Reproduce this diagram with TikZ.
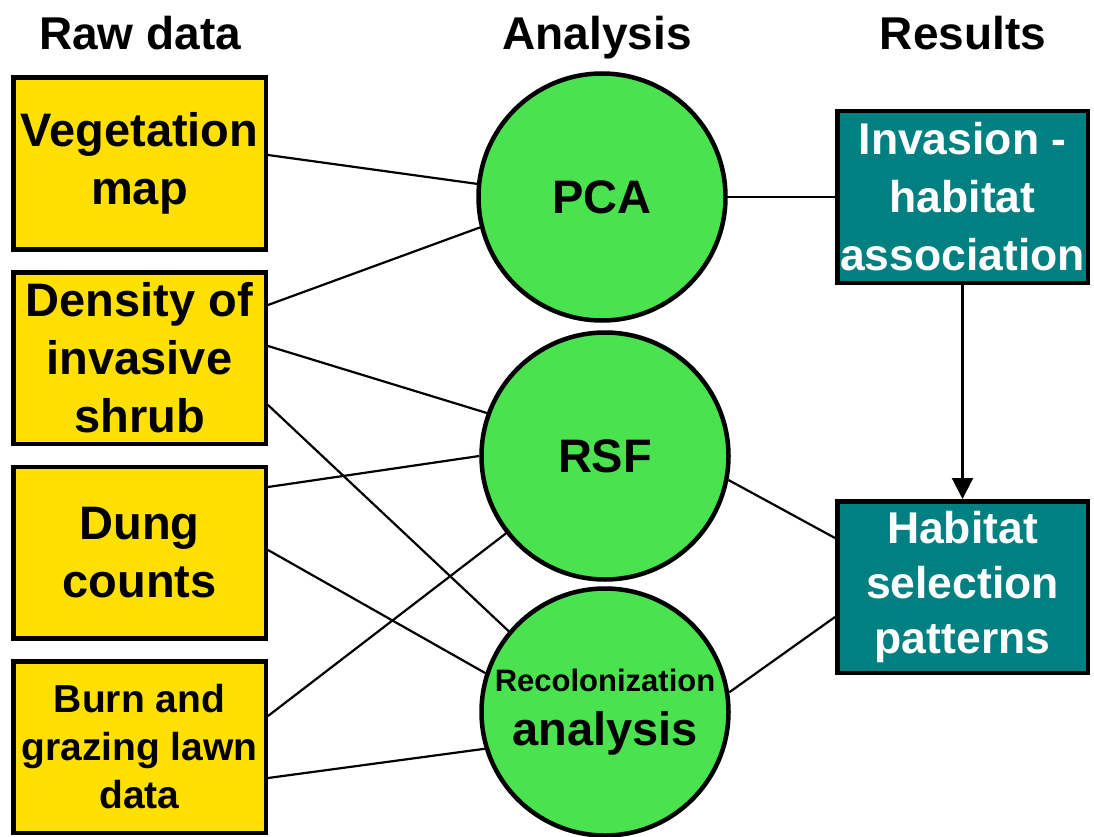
\documentclass[tikz,border=0pt]{standalone}
\usepackage{fontspec}
\setmainfont{Liberation Sans}
\usepackage{tikz}
\usetikzlibrary{positioning}
\usetikzlibrary{arrows.meta}
\definecolor{rawyellow}{RGB}{255,224,0}
\definecolor{anagreen}{RGB}{74,226,78}
\definecolor{resteal}{RGB}{0,128,128}

\begin{document}
\begin{tikzpicture}[x=1pt,y=1pt,on grid,
    rawbox/.style={draw,line width=4.5pt,fill=rawyellow,minimum width=252.5pt,minimum height=171.5pt,
      inner sep=0pt,align=center,font=\fontsize{47}{58}\selectfont\bfseries},
    method/.style={circle,draw,line width=4.5pt,fill=anagreen,minimum size=247pt,
      inner sep=0pt,align=center,font=\fontsize{47}{54}\selectfont\bfseries},
    result/.style={draw,line width=4.5pt,fill=resteal,text=white,minimum width=250.5pt,minimum height=171.5pt,
      inner sep=0pt,align=center,font=\fontsize{44.5}{58}\selectfont\bfseries},
    head/.style={anchor=base,font=\fontsize{46}{54}\selectfont\bfseries},
    link/.style={line width=2.2pt}]
   \useasboundingbox (0,0) rectangle (1094,-837);
   % column titles
   \node[head] (h_raw) at (140,-50) {Raw data};
   \node[head] (h_ana) at (597,-50) {Analysis};
   \node[head] (h_res) at (963,-50) {Results};
   % raw data
   \node[rawbox] (veg) at (139.5,-163.5) {Vegetation\\map};
   \node[rawbox] (dens) [below=194.5pt of veg] {Density of\\invasive\\shrub};
   \node[rawbox] (dung) [below=194.5pt of dens] {Dung\\counts};
   \node[rawbox,font=\fontsize{39}{48}\selectfont\bfseries] (burn) [below=194.5pt of dung] {Burn and\\grazing lawn\\data};
   % analysis
   \node[method] (pca) at (602,-197) {PCA};
   \node[method] (rsf) [below right=259pt and 3pt of pca] {RSF};
   \node[method] (rec) [below=256pt of rsf] {{\fontsize{31}{31}\selectfont Recolonization}\\analysis};
   % results
   \node[result] (inv) at (962.5,-197) {Invasion -\\habitat\\association};
   \node[result,font=\fontsize{44.5}{55}\selectfont\bfseries] (hab) [below=390pt of inv] {Habitat\\selection\\patterns};
    \path[link]
    ([yshift=8.5pt]veg.east) edge (pca.174)
    ([yshift=53pt]dens.east) edge (pca.194)
    ([yshift=12pt]dens.east) edge (rsf.160)
    ([yshift=-47pt]dens.east) edge (rec.140)
    ([yshift=65.5pt]dung.east) edge (rsf.180)
    ([yshift=2.5pt]dung.east) edge (rec.162)
    ([yshift=31pt]burn.east) edge (rsf.218)
    ([yshift=-31pt]burn.east) edge (rec.197)
    (pca) edge (inv)
    (rsf.349) edge ([yshift=49pt]hab.west)
    (rec.9) edge ([yshift=-30pt]hab.west);
   \draw[link,-{Triangle[width=21pt,length=21pt]}] (inv) -- (hab);
\end{tikzpicture}
\end{document}
